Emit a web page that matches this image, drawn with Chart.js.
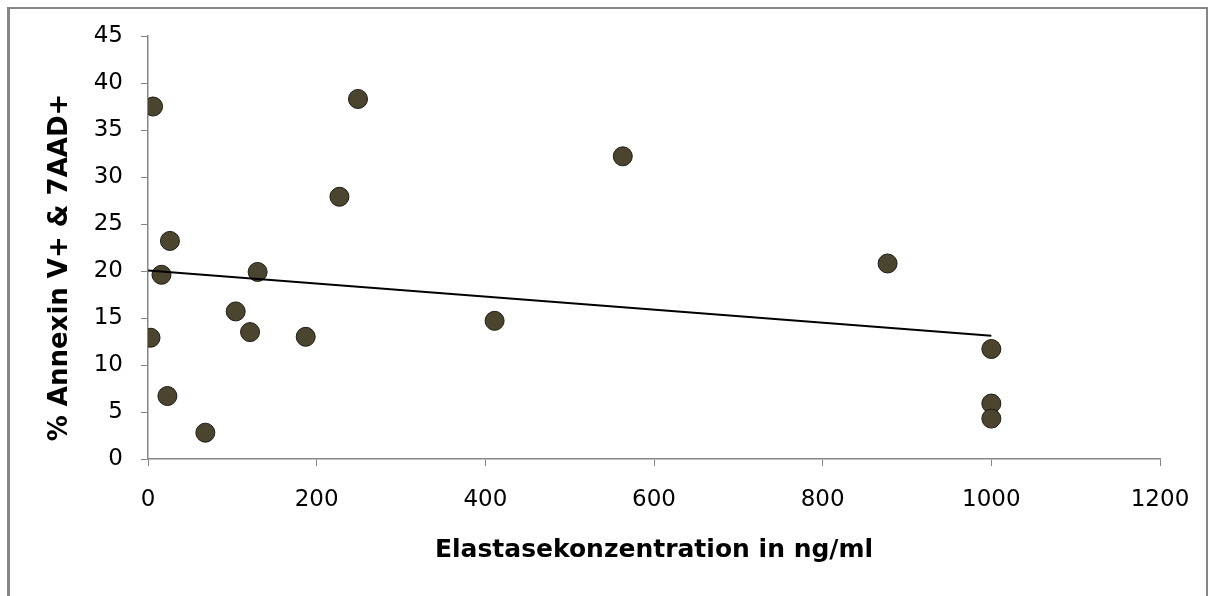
<!DOCTYPE html>
<html>
<head>
<meta charset="utf-8">
<script src="https://cdn.jsdelivr.net/npm/chart.js@4.4.1/dist/chart.umd.min.js"></script>
<style>
  html, body { margin: 0; padding: 0; background: #fff; }
  #wrap { width: 1218px; height: 596px; }
</style>
</head>
<body>
<div id="wrap"><canvas id="myChart" width="1218" height="596"></canvas></div>
<script>
// concentration (ng/ml) and % Annexin V+ & 7AAD+
const concentration = [3, 6, 16, 26, 23, 68, 104, 121, 130, 187, 227, 249, 411, 563, 877, 1000, 1000, 1000];
const annexin = [12.9, 37.5, 19.6, 23.2, 6.7, 2.8, 15.7, 13.5, 19.9, 13.0, 27.9, 38.3, 14.7, 32.2, 20.8, 11.7, 5.9, 4.3];

// linear trendline
const trendX = [0, 1000];
const trendY = [20.05, 13.1];

const xTicks = [0, 200, 400, 600, 800, 1000, 1200];
const yTicks = [0, 5, 10, 15, 20, 25, 30, 35, 40, 45];

const xTitle = 'Elastasekonzentration in ng/ml';
const yTitle = '% Annexin V+ & 7AAD+';

const axisGray = '#868686';
const family = '"DejaVu Sans", Verdana, sans-serif';
const font = { family, size: 23 };

const frame = {
  id: 'frame',
  beforeDraw(chart) {
    const ctx = chart.ctx;
    ctx.save();
    ctx.fillStyle = '#fff';
    ctx.fillRect(0, 0, chart.width, chart.height);
    ctx.fillStyle = axisGray;
    ctx.fillRect(7, 7, 3, chart.height);
    ctx.fillRect(7, 7, 1201, 2);
    ctx.fillRect(1206, 7, 2, chart.height);
    ctx.restore();
  },
  // y title sits a bit below the plot centre in the original
  afterDraw(chart) {
    const ctx = chart.ctx;
    const y = chart.scales.y;
    ctx.save();
    ctx.translate(60, (y.top + y.bottom) / 2 + 20);
    ctx.rotate(-Math.PI / 2);
    ctx.font = 'bold 26px ' + family;
    ctx.fillStyle = '#000';
    ctx.textAlign = 'center';
    ctx.textBaseline = 'middle';
    ctx.fillText(yTitle, 0, 0);
    ctx.restore();
  }
};

const data = {
  datasets: [
    {
      type: 'line',
      label: 'Trend',
      data: trendX.map((x, i) => ({ x, y: trendY[i] })),
      borderColor: '#000',
      borderWidth: 2,
      pointRadius: 0,
      fill: false,
    },
    {
      type: 'scatter',
      label: 'Messwerte',
      data: concentration.map((x, i) => ({ x, y: annexin[i] })),
      backgroundColor: '#4b4530',
      borderColor: '#1e1c14',
      borderWidth: 1,
      pointRadius: 9.5,
    },
  ],
};

const config = {
  type: 'scatter',
  data,
  options: {
    responsive: false,
    animation: false,
    layout: { padding: { left: 0, right: 58, top: 36, bottom: 0 } },
    plugins: { legend: { display: false }, tooltip: { enabled: false } },
    scales: {
      x: {
        type: 'linear',
        min: 0,
        max: 1200,
        afterBuildTicks: (s) => { s.ticks = xTicks.map(v => ({ value: v })); },
        afterFit: (s) => { s.height = 137; },
        grid: { drawOnChartArea: false, color: axisGray, tickLength: 7 },
        border: { color: axisGray, width: 1.5 },
        ticks: { color: '#000', font, padding: 20, maxRotation: 0, callback: (v) => String(v) },
        title: {
          display: true,
          text: xTitle,
          color: '#000',
          font: { family, size: 25, weight: 'bold' },
          padding: { top: 0, bottom: 31 },
        },
      },
      y: {
        type: 'linear',
        min: 0,
        max: 45,
        afterBuildTicks: (s) => { s.ticks = yTicks.map(v => ({ value: v })); },
        afterFit: (s) => { s.width = 148; },
        grid: { drawOnChartArea: false, color: axisGray, tickLength: 7 },
        border: { color: axisGray, width: 1.5 },
        ticks: { color: '#000', font, padding: 18, callback: (v) => String(v) },
        title: { display: false },
      },
    },
  },
  plugins: [frame],
};

const myChart = new Chart(document.getElementById('myChart').getContext('2d'), config);
</script>
</body>
</html>
